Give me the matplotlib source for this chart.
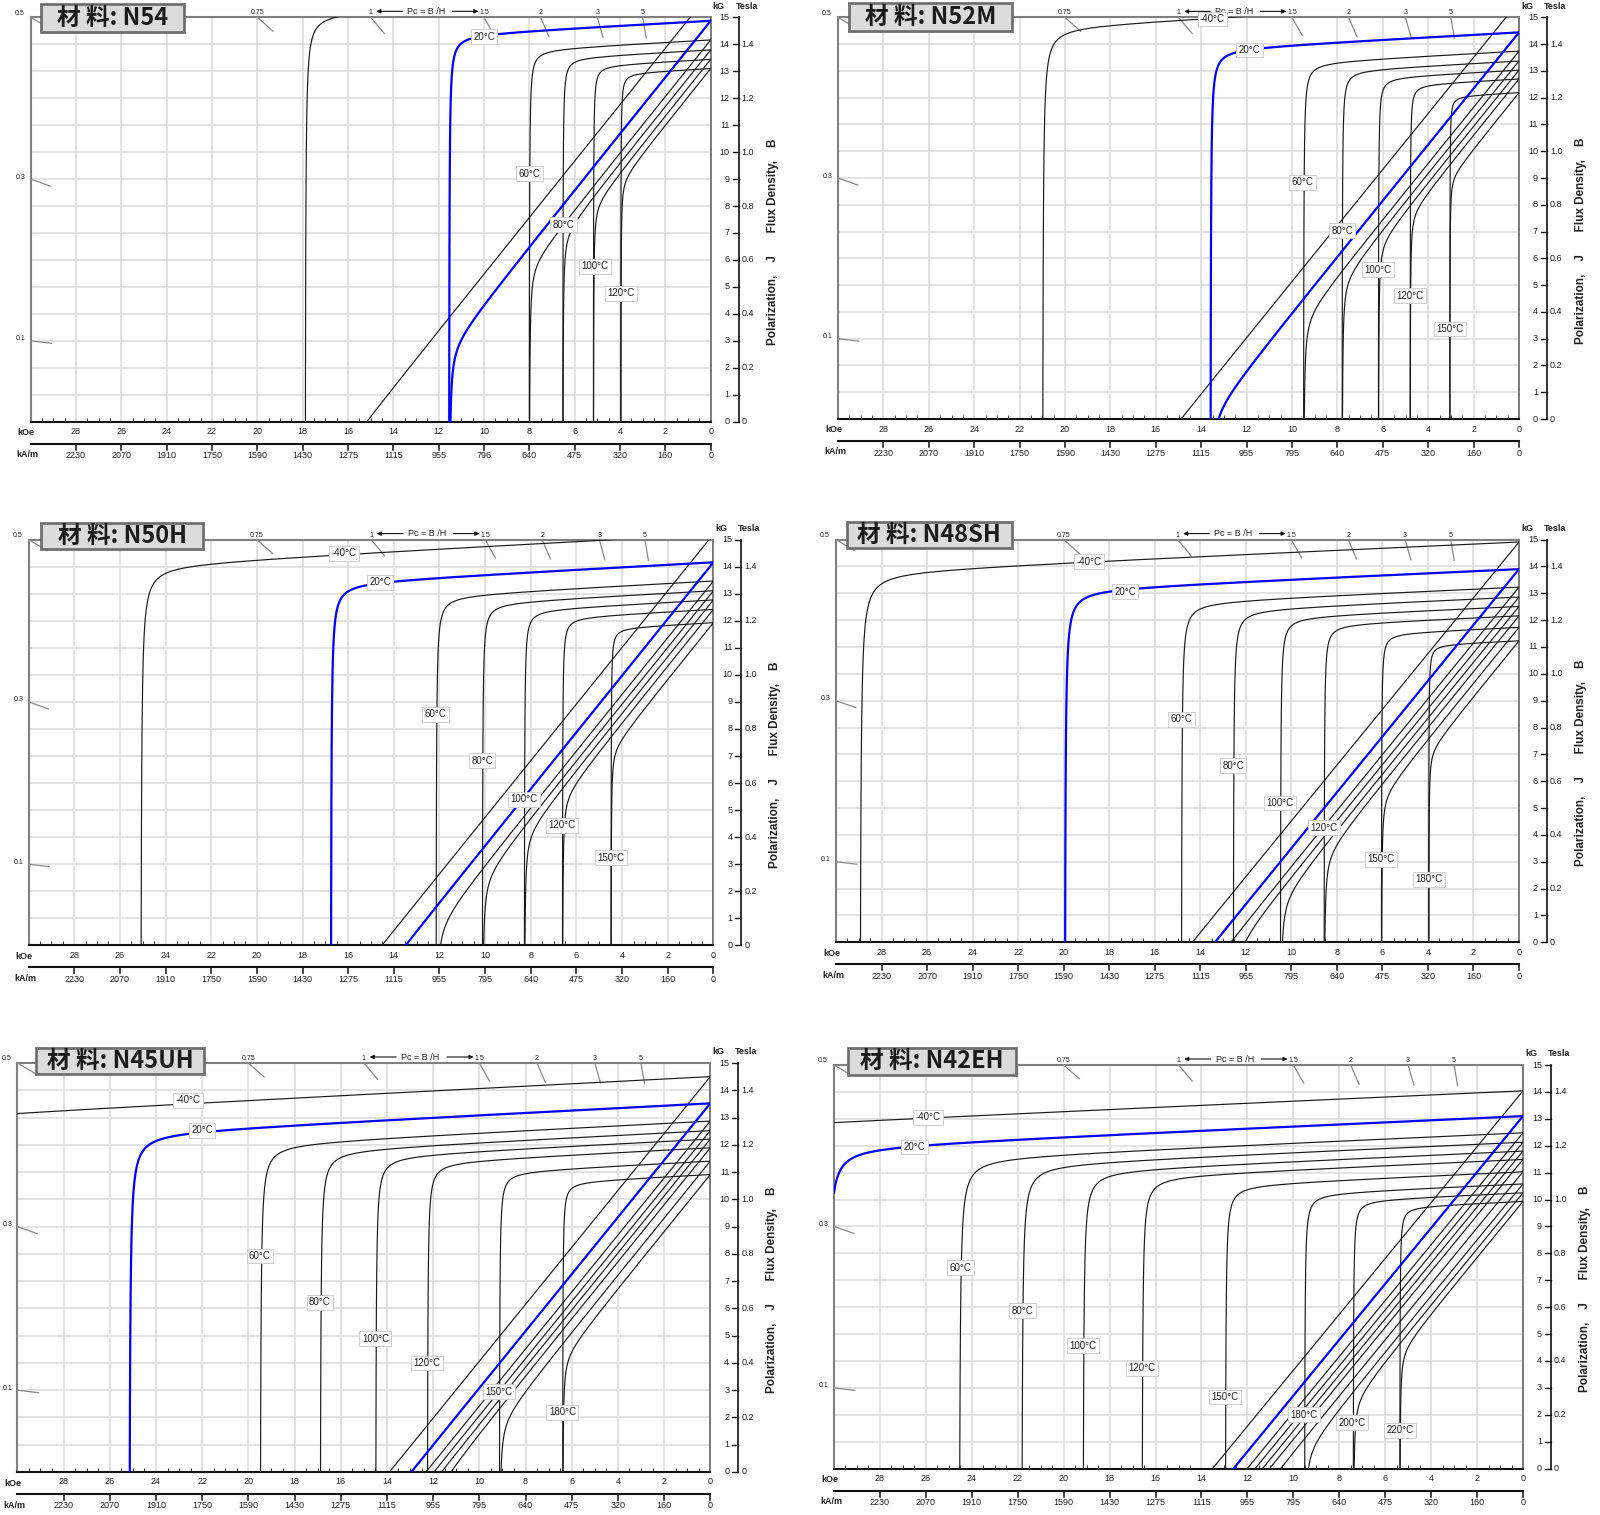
import numpy as np
import matplotlib
matplotlib.use('Agg')
import matplotlib.pyplot as plt
from matplotlib.patches import Rectangle
from matplotlib.transforms import blended_transform_factory as blend

plt.rcParams['font.family'] = ['Liberation Sans', 'DejaVu Sans']

FW, FH, DPI = 1600, 1515, 100

# ---------------- data (H in kOe, B/J in kG) ----------------
koe_ticks = [28, 26, 24, 22, 20, 18, 16, 14, 12, 10, 8, 6, 4, 2, 0]
kam_labels = ['2230', '2070', '1910', '1750', '1590', '1430', '1275', '1115',
              '955', '795', '640', '475', '320', '160', '0']
kam_labels_n54 = ['2230', '2070', '1910', '1750', '1590', '1430', '1275', '1115',
                  '955', '796', '640', '475', '320', '160', '0']
kg_ticks = list(range(0, 16))
tesla_ticks = [0, 2, 4, 6, 8, 10, 12, 14]
tesla_labels = ['0', '0.2', '0.4', '0.6', '0.8', '1.0', '1.2', '1.4']
pc_top = [0.5, 0.75, 1, 1.5, 2, 3, 5]
pc_top_labels = ['0.5', '0.75', '1', '1.5', '2', '3', '5']
pc_left = [0.3, 0.1]
pc_left_labels = ['0.3', '0.1']

n54_temps = ['-40°C', '20°C', '60°C', '80°C', '100°C', '120°C']
n54_br = [15.95, 14.87, 14.16, 13.79, 13.44, 13.10]
n54_hcj = [17.9, 11.55, 8.01, 6.53, 5.18, 3.97]
n54_lab_h = [None, 10.0, 8.0, 6.5, 5.1, 3.95]
n54_lab_b = [None, 14.28, 9.2, 7.3, 5.77, 4.76]
n54_slope = 0.045

n52m_temps = ['-40°C', '20°C', '60°C', '80°C', '100°C', '120°C', '150°C']
n52m_br = [15.6, 14.44, 13.74, 13.37, 13.03, 12.70, 12.19]
n52m_hcj = [21.0, 13.6, 9.5, 7.8, 6.2, 4.8, 3.05]
n52m_lab_h = [13.5, 11.86, 9.53, 7.79, 6.21, 4.81, 3.03]
n52m_lab_b = [14.94, 13.78, 8.84, 7.04, 5.57, 4.60, 3.36]
n52m_slope = 0.045

n50h_temps = ['-40°C', '20°C', '60°C', '80°C', '100°C', '120°C', '150°C']
n50h_br = [15.2, 14.16, 13.47, 13.11, 12.77, 12.42, 11.93]
n50h_hcj = [25.1, 16.77, 12.16, 10.13, 8.29, 6.62, 4.49]
n50h_lab_h = [16.2, 14.6, 12.16, 10.13, 8.29, 6.62, 4.49]
n50h_lab_b = [14.5, 13.42, 8.55, 6.82, 5.40, 4.44, 3.24]
n50h_slope = 0.045

n48sh_temps = ['-40°C', '20°C', '60°C', '80°C', '100°C', '120°C', '150°C', '180°C']
n48sh_br = [14.91, 13.90, 13.23, 12.86, 12.51, 12.16, 11.73, 11.23]
n48sh_hcj = [28.96, 19.96, 14.84, 12.56, 10.49, 8.57, 6.05, 3.97]
n48sh_lab_h = [18.9, 17.3, 14.84, 12.56, 10.5, 8.57, 6.05, 3.97]
n48sh_lab_b = [14.17, 13.06, 8.30, 6.57, 5.19, 4.27, 3.10, 2.34]
n48sh_slope = 0.038

n45uh_temps = ['-40°C', '20°C', '60°C', '80°C', '100°C', '120°C', '150°C', '180°C']
n45uh_br = [14.5, 13.52, 12.87, 12.52, 12.21, 11.89, 11.40, 10.91]
n45uh_hcj = [38.0, 25.17, 19.5, 16.9, 14.5, 12.26, 9.14, 6.40]
n45uh_lab_h = [22.6, 22.0, 19.5, 16.9, 14.5, 12.26, 9.14, 6.40]
n45uh_lab_b = [13.63, 12.53, 7.92, 6.22, 4.89, 4.0, 2.94, 2.19]
n45uh_slope = 0.043

n42eh_temps = ['-40°C', '20°C', '60°C', '80°C', '100°C', '120°C', '150°C',
               '180°C', '200°C', '220°C']
n42eh_br = [14.04, 13.10, 12.48, 12.13, 11.80, 11.49, 11.03, 10.58, 10.25, 9.93]
n42eh_hcj = [42.0, 30.3, 24.56, 21.84, 19.17, 16.6, 12.97, 9.52, 7.40, 5.37]
n42eh_lab_h = [25.9, 26.5, 24.5, 21.8, 19.15, 16.6, 12.97, 9.55, 7.43, 5.37]
n42eh_lab_b = [13.05, 11.95, 7.46, 5.86, 4.57, 3.73, 2.66, 2.0, 1.70, 1.43]
n42eh_slope = 0.038

KNEE = 0.017  # knee roundness (fraction of Hcj)

panels = [
    ('材 料: N54', n54_temps, n54_br, n54_hcj, n54_lab_h, n54_lab_b, n54_slope, kam_labels_n54,
     (30.7, 710.7, 17.3, 421.7), (40.7, 4.3, 184.3, 31.7)),
    ('材 料: N52M', n52m_temps, n52m_br, n52m_hcj, n52m_lab_h, n52m_lab_b, n52m_slope, kam_labels,
     (838, 1519, 17.4, 419), (849, 3.3, 1012, 30.7)),
    ('材 料: N50H', n50h_temps, n50h_br, n50h_hcj, n50h_lab_h, n50h_lab_b, n50h_slope, kam_labels,
     (28.6, 713.4, 539.6, 945.4), (41.3, 522.7, 203, 549.3)),
    ('材 料: N48SH', n48sh_temps, n48sh_br, n48sh_hcj, n48sh_lab_h, n48sh_lab_b, n48sh_slope, kam_labels,
     (836, 1519, 539.6, 942.3), (847, 522, 1011.6, 548.3)),
    ('材 料: N45UH', n45uh_temps, n45uh_br, n45uh_hcj, n45uh_lab_h, n45uh_lab_b, n45uh_slope, kam_labels,
     (17.4, 710.3, 1063, 1472), (36.3, 1047.5, 203.9, 1074)),
    ('材 料: N42EH', n42eh_temps, n42eh_br, n42eh_hcj, n42eh_lab_h, n42eh_lab_b, n42eh_slope, kam_labels,
     (834, 1523, 1065, 1468.6), (847.8, 1048, 1016, 1074.7)),
]


def demag(br, hcj, slope):
    u = np.geomspace(1e-4, hcj, 1200)[::-1]
    h = hcj - u
    k = KNEE * hcj
    j = br - slope * h - k / u + k / hcj
    b = j - h
    return h, j, b


fig = plt.figure(figsize=(FW / DPI, FH / DPI), dpi=DPI)
TXT = '#222222'

for (title, temps, brs, hcjs, lh, lb, slope, kaml, (l, r, t, btm), box) in panels:
    aw, ah = r - l, btm - t
    ax = fig.add_axes([l / FW, 1 - btm / FH, aw / FW, ah / FH])
    ax.set_xlim(30, 0)
    ax.set_ylim(0, 15)
    ax.set_xticks(koe_ticks)
    ax.set_xticklabels([])
    ax.set_yticks(kg_ticks)
    ax.set_yticklabels([])
    ax.tick_params(which='major', length=0)
    ax.set_xticks(np.arange(0.5, 30, 0.5), minor=True)
    ax.tick_params(axis='x', which='minor', direction='in', length=3, width=0.7,
                   color='#333333', top=False)
    ax.tick_params(axis='y', which='minor', length=0)
    ax.grid(True, which='major', color='#dedede', lw=1.2)
    ax.set_axisbelow(True)
    for side, col, lw in [('left', '#808080', 1.5), ('top', '#808080', 1.5),
                          ('bottom', '#111111', 1.5), ('right', '#666666', 1.2)]:
        ax.spines[side].set_color(col)
        ax.spines[side].set_linewidth(lw)

    # curves
    for temp, br, hcj in zip(temps, brs, hcjs):
        h, j, b = demag(br, hcj, slope)
        if temp == '20°C':
            col, lw, z = '#0000ff', 1.6, 4
        else:
            col, lw, z = '#1a1a1a', 0.85, 3
        ax.plot(h, j, color=col, lw=lw, zorder=z)
        ax.plot(h, b, color=col, lw=lw, zorder=z)

    # temperature labels
    for temp, x, y in zip(temps, lh, lb):
        if x is None:
            continue
        ax.text(x, y, temp, ha='center', va='center', fontsize=7, color=TXT, zorder=6,
                bbox=dict(boxstyle='square,pad=0.25', fc='white', ec='#cfcfcf', lw=0.7))

    Tb = blend(ax.transData, ax.transAxes)
    Tr = blend(ax.transAxes, ax.transData)

    # kOe labels
    for hv in koe_ticks:
        ax.text(hv, -10 / ah, str(hv), transform=Tb, ha='center', va='center',
                fontsize=6.5, color=TXT)
    ax.text(-13 / aw, -11 / ah, 'kOe', transform=ax.transAxes, ha='left', va='center',
            fontsize=6.5, fontweight='bold', color=TXT)

    # kA/m axis
    yk = -22 / ah
    ax.plot([30, 0], [yk, yk], transform=Tb, color='#111111', lw=1.5, clip_on=False)
    for hv, lab in zip(koe_ticks, kaml):
        ax.plot([hv, hv], [yk, yk - 6 / ah], transform=Tb, color='#111111', lw=1.1,
                clip_on=False)
        ax.text(hv, -34 / ah, lab, transform=Tb, ha='center', va='center',
                fontsize=6.5, color=TXT)
    ax.text(-14 / aw, -33 / ah, 'kA/m', transform=ax.transAxes, ha='left', va='center',
            fontsize=6.5, fontweight='bold', color=TXT)

    # right kG / Tesla axis
    xl = 1 + 28 / aw
    ax.plot([xl, xl], [0, 15], transform=Tr, color='#111111', lw=1.2, clip_on=False)
    for v in kg_ticks:
        ax.plot([1 + 22 / aw, xl], [v, v], transform=Tr, color='#111111', lw=1.0,
                clip_on=False)
        ax.text(1 + 19 / aw, v, str(v), transform=Tr, ha='right', va='center',
                fontsize=6.5, color=TXT)
    for v, s in zip(tesla_ticks, tesla_labels):
        ax.text(1 + 31 / aw, v, s, transform=Tr, ha='left', va='center',
                fontsize=6.5, color=TXT)
    ax.text(1 + 8 / aw, 1 + 11 / ah, 'kG', transform=ax.transAxes, ha='center',
            va='center', fontsize=6.5, fontweight='bold', color=TXT)
    ax.text(1 + 36 / aw, 1 + 11 / ah, 'Tesla', transform=ax.transAxes, ha='center',
            va='center', fontsize=6.5, fontweight='bold', color=TXT)
    ax.text(1 + 62 / aw, 0.445, 'Polarization,    J       Flux Density,    B',
            transform=ax.transAxes, rotation=90, ha='center', va='center',
            fontsize=8.5, fontweight='bold', color=TXT)

    # permeance coefficient marks
    def pc_tick(h0, b0):
        p0 = ax.transData.transform((h0, b0))
        p1 = ax.transData.transform((0, 0))
        d = (p1 - p0) / np.hypot(*(p1 - p0))
        de = ax.transData.inverted().transform(p0 + 21 * d)
        ax.plot([h0, de[0]], [b0, de[1]], color='#8a8a8a', lw=0.9, clip_on=False,
                zorder=2.6)

    for pc, lab in zip(pc_top, pc_top_labels):
        h0 = 15 / pc
        pc_tick(h0, 15)
        if h0 >= 29.99:
            ax.text(-11 / aw, 1 + 4 / ah, lab, transform=ax.transAxes, ha='center',
                    va='center', fontsize=5, color=TXT)
        else:
            ax.text(h0, 1 + 4.5 / ah, lab, transform=Tb, ha='center', va='center',
                    fontsize=5, color=TXT)
    for pc, lab in zip(pc_left, pc_left_labels):
        b0 = 30 * pc
        pc_tick(30, b0)
        ax.text(-10 / aw, b0 + 2 * 15 / ah, lab, transform=Tr, ha='center', va='center',
                fontsize=5, color=TXT)

    ya = 1 + 6 / ah
    for x_from, x_to in [(13.6, 14.75), (11.4, 10.25)]:
        ax.annotate('', xy=(x_to, ya), xytext=(x_from, ya), xycoords=Tb, textcoords=Tb,
                    arrowprops=dict(arrowstyle='-|>', color='#111111', lw=0.8,
                                    shrinkA=0, shrinkB=0, mutation_scale=6),
                    annotation_clip=False)
    ax.text(12.55, ya, 'Pc = B /H', transform=Tb, ha='center', va='center',
            fontsize=6.5, color=TXT)

    # title box
    x0, y0, x1, y1 = box
    fig.add_artist(Rectangle((x0 / FW, 1 - y1 / FH), (x1 - x0) / FW, (y1 - y0) / FH,
                             transform=fig.transFigure, fc='#dcdcdc', ec='#707070',
                             lw=2.0, zorder=10))
    fig.text((x0 + x1) / 2 / FW, 1 - (y0 + y1) / 2 / FH, title, ha='center',
             va='center', fontsize=17, fontweight='bold', color='#1a1a1a',
             family=['Noto Sans CJK SC', 'DejaVu Sans'], zorder=11)

fig.savefig('out.png', dpi=DPI)
